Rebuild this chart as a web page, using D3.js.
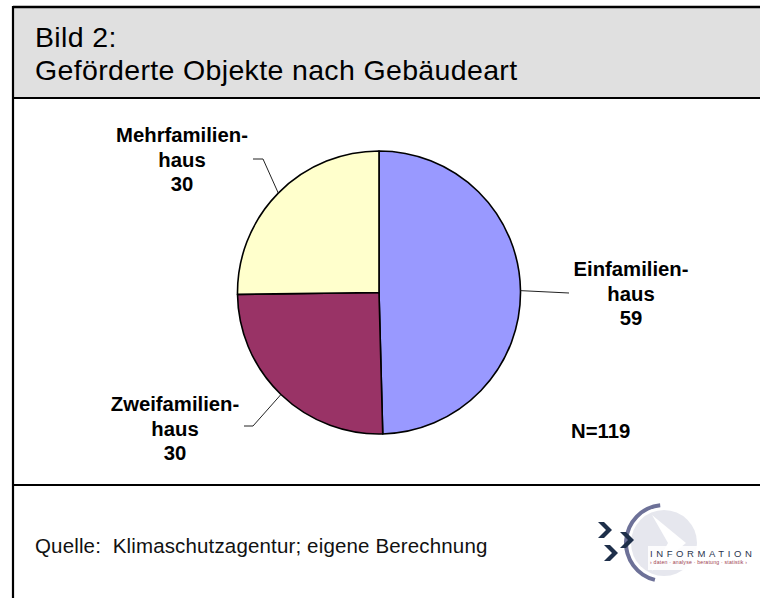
<!DOCTYPE html>
<html><head><meta charset="utf-8">
<script src="https://cdn.jsdelivr.net/npm/d3@7"></script>
<style>html,body{margin:0;padding:0;background:#fff;}svg{display:block;}</style>
</head><body>
<script>
const categories = ["Einfamilienhaus", "Zweifamilienhaus", "Mehrfamilienhaus"];
const labelLines = [["Einfamilien-", "haus"], ["Zweifamilien-", "haus"], ["Mehrfamilien-", "haus"]];
const values = [59, 30, 30];
const colors = ["#9999ff", "#993366", "#ffffcc"];
const titleLines = ["Bild 2:", "Geförderte Objekte nach Gebäudeart"];
const totalLabel = "N=119";
const sourceText = "Quelle:  Klimaschutzagentur; eigene Berechnung";

const W = 760, H = 598;
const svg = d3.select("body").append("svg").attr("width", W).attr("height", H);

// frame
svg.append("rect").attr("x", 13).attr("y", 7).attr("width", W).attr("height", 91).attr("fill", "#e0e0e0");
svg.append("line").attr("x1", 13).attr("x2", W).attr("y1", 7).attr("y2", 7).attr("stroke", "#000").attr("stroke-width", 2.5);
svg.append("line").attr("x1", 13).attr("x2", W).attr("y1", 98).attr("y2", 98).attr("stroke", "#000").attr("stroke-width", 2.2);
svg.append("line").attr("x1", 13).attr("x2", W).attr("y1", 485).attr("y2", 485).attr("stroke", "#000").attr("stroke-width", 2.2);
svg.append("line").attr("x1", 13).attr("x2", 13).attr("y1", 6).attr("y2", H).attr("stroke", "#000").attr("stroke-width", 2.2);

// title
svg.selectAll("text.title").data(titleLines).join("text").attr("class", "title")
  .attr("x", 35).attr("y", (d, i) => 47 + i * 33)
  .attr("font-family", "Liberation Sans, Arial, sans-serif").attr("font-size", 28.5)
  .attr("letter-spacing", 0.35)
  .attr("fill", "#000").text(d => d);

// pie
const cx = 379, cy = 292.5, r = 141.5;
const pie = d3.pie().sort(null).value(d => d)(values);
const arc = d3.arc().innerRadius(0).outerRadius(r);
const g = svg.append("g").attr("transform", `translate(${cx},${cy})`);
g.selectAll("path").data(pie).join("path")
  .attr("d", arc).attr("fill", (d, i) => colors[i])
  .attr("stroke", "#000").attr("stroke-width", 1.6).attr("stroke-linejoin", "round");

// labels
const labelPos = [
  {x: 631, y: 276, leader: (p) => [[p[0], p[1]], [569, 293]]},
  {x: 175, y: 411, leader: (p) => [[p[0], p[1]], [253, 426], [244, 426]]},
  {x: 182, y: 142, leader: (p) => [[p[0], p[1]], [263, 159], [253, 159]]}
];
const lineH = 24.7;
pie.forEach((d, i) => {
  const mid = (d.startAngle + d.endAngle) / 2;
  const p = [cx + r * Math.sin(mid), cy - r * Math.cos(mid)];
  svg.append("path").attr("d", d3.line()(labelPos[i].leader(p)))
    .attr("fill", "none").attr("stroke", "#222").attr("stroke-width", 1);
  const lines = labelLines[i].concat([String(values[i])]);
  svg.append("text").attr("text-anchor", "middle")
    .attr("font-family", "Liberation Sans, Arial, sans-serif").attr("font-weight", "bold")
    .attr("font-size", 20.3).attr("fill", "#000")
    .selectAll("tspan").data(lines).join("tspan")
    .attr("x", labelPos[i].x).attr("y", (t, j) => labelPos[i].y + j * lineH).text(t => t);
});

svg.append("text").attr("x", 571).attr("y", 438)
  .attr("font-family", "Liberation Sans, Arial, sans-serif").attr("font-weight", "bold")
  .attr("font-size", 20.3).text(totalLabel);

// source
svg.append("text").attr("x", 35).attr("y", 553).attr("xml:space", "preserve")
  .style("white-space", "pre")
  .attr("font-family", "Liberation Sans, Arial, sans-serif").attr("font-size", 20.5)
  .attr("letter-spacing", 0.15)
  .attr("fill", "#111").text(sourceText);

// logo
const lg = svg.append("g");
lg.append("circle").attr("cx", 664).attr("cy", 543).attr("r", 33).attr("fill", "#e6e7ee");
lg.append("path").attr("d", "M652,515 L686,543 L652,571 L668,543 Z").attr("fill", "#fff");
const swoosh = d3.arc().innerRadius(36).outerRadius(40).startAngle(-0.1).endAngle(-2.9);
lg.append("path").attr("transform", "translate(664,543)").attr("d", swoosh()).attr("fill", "#6d7198");
const chev = "M0,0 L6,0 L14,8 L6,16 L0,16 L8,8 Z";
[[598, 522], [620, 532], [604, 545]].forEach(([x, y]) => {
  lg.append("path").attr("transform", `translate(${x},${y})`).attr("d", chev).attr("fill", "#1e2f4a");
});
lg.append("rect").attr("x", 648).attr("y", 546).attr("width", 112).attr("height", 24).attr("fill", "#fff").attr("opacity", 0.85);
lg.append("text").attr("x", 650).attr("y", 557).attr("font-family", "Liberation Sans, Arial, sans-serif")
  .attr("font-size", 9.5).attr("letter-spacing", 3.6).attr("fill", "#2a3550").text("INFORMATION");
lg.append("text").attr("x", 650).attr("y", 564).attr("font-family", "Liberation Sans, Arial, sans-serif")
  .attr("font-size", 5.2).attr("letter-spacing", 0.2).attr("fill", "#a04250").text("› daten · analyse · beratung · statistik ›");
</script>
</body></html>
